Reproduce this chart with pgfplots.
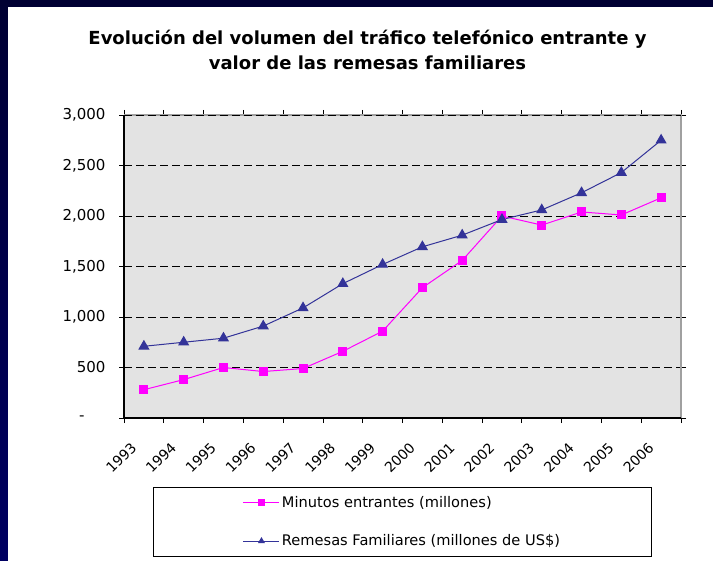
\documentclass[border=0pt]{standalone}
\usepackage{fontspec}
\setmainfont{DejaVu Sans}
\usepackage{pgfplots}
\pgfplotsset{compat=1.18}
\definecolor{navyA}{HTML}{000033}
\definecolor{navyB}{HTML}{000062}
\definecolor{plotbg}{HTML}{E3E3E3}
\definecolor{mag}{HTML}{FF00FF}
\definecolor{remblue}{HTML}{333399}
\definecolor{framegray}{HTML}{A0A0A0}
\begin{document}
\begin{tikzpicture}
\useasboundingbox (0,0) rectangle (713bp,561bp);
\shade[top color=navyA,bottom color=navyB] (0,0) rectangle (713bp,561bp);
\fill[white] (8bp,0) rectangle (713bp,554bp);
\node[font=\fontsize{18bp}{20bp}\selectfont\bfseries] at (367.5bp,522bp) {Evolución del volumen del tráfico telefónico entrante y};
\node[font=\fontsize{18bp}{20bp}\selectfont\bfseries] at (367.5bp,498bp) {valor de las remesas familiares};
\begin{axis}[
  at={(124bp,143bp)}, anchor=south west, scale only axis,
  width=557bp, height=303bp,
  xmin=0, xmax=14, ymin=0, ymax=3000,
  clip=false,
  axis line style={draw=none},
  axis background/.style={fill=plotbg},
  tick align=outside,
  major tick length=5bp,
  tick style={black, line width=0.8bp},
  xtick={0,1,...,14},
  xticklabels={},
  extra x ticks={0.5,1.5,...,13.5},
  extra x tick labels={1993,1994,1995,1996,1997,1998,1999,2000,2001,2002,2003,2004,2005,2006},
  extra x tick style={major tick length=0pt, xticklabel style={font=\fontsize{14bp}{16bp}\selectfont, xshift=-10bp, yshift=-27bp, rotate=45, anchor=east, inner sep=0pt}},
  ytick={0,500,...,3000},
  yticklabels={{-\hspace*{21bp}},500,{1,000},{1,500},{2,000},{2,500},{3,000}},
  ymajorgrids,
  major grid style={black, dash pattern=on 8bp off 4bp, line width=0.8bp},
  ticklabel style={font=\fontsize{15bp}{17bp}\selectfont},
  yticklabel style={xshift=-10bp},
  legend style={at={(rel axis cs:0.5,-0.2277)}, anchor=north, draw=black,
    inner xsep=89.5bp, inner ysep=7bp, row sep=22bp,
    font=\fontsize{14.6bp}{16bp}\selectfont, cells={anchor=west}},
  legend image code/.code={\draw[mark repeat=2,mark phase=2,#1,mark size=3bp] plot coordinates {(0bp,0bp)(18bp,0bp)(36bp,0bp)};},
]
\draw[framegray, line width=1.5bp] (rel axis cs:0,1) -- (rel axis cs:1,1) -- (rel axis cs:1,0);
\draw[black, dash pattern=on 8bp off 4bp, line width=0.8bp] (rel axis cs:0,1) -- (rel axis cs:1,1);
\draw[black, line width=1.2bp] (rel axis cs:0,1) -- (rel axis cs:0,0) -- (rel axis cs:1,0);
\addplot[mag, line width=1bp, mark=square*, mark size=4bp, mark options={solid}] coordinates {
 (0.5,280) (1.5,380) (2.5,500) (3.5,460) (4.5,490) (5.5,660) (6.5,860)
 (7.5,1290) (8.5,1560) (9.5,2000) (10.5,1910) (11.5,2040) (12.5,2010) (13.5,2180)};
\addlegendentry{Minutos entrantes (millones)}
\addplot[remblue, line width=1bp, mark=triangle*, mark size=5.5bp, mark options={solid}] coordinates {
 (0.5,710) (1.5,750) (2.5,790) (3.5,910) (4.5,1090) (5.5,1330) (6.5,1520)
 (7.5,1695) (8.5,1810) (9.5,1965) (10.5,2060) (11.5,2230) (12.5,2430) (13.5,2750)};
\addlegendentry{Remesas Familiares (millones de US\$)}
\end{axis}
\end{tikzpicture}
\end{document}
